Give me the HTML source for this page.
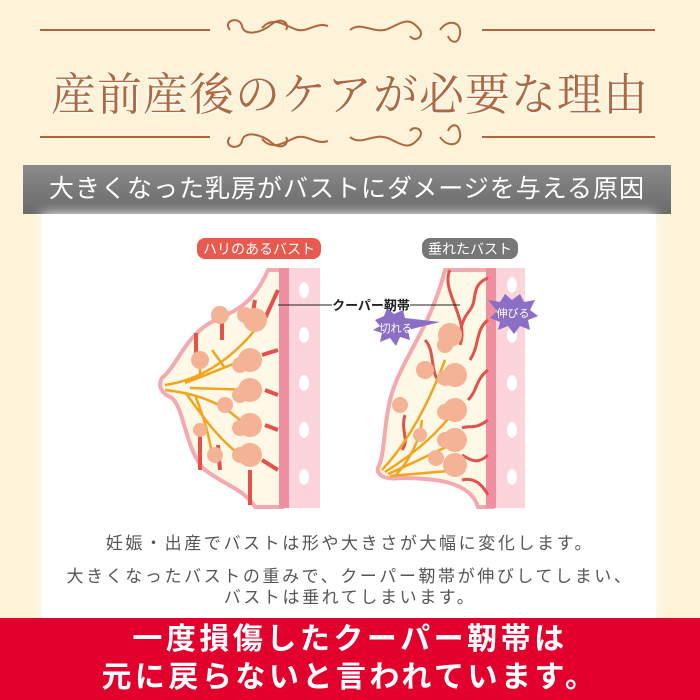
<!DOCTYPE html>
<html><head><meta charset="utf-8"><style>
html,body{margin:0;padding:0}
body{width:700px;height:700px;background:#fcf3d9;position:relative;overflow:hidden;font-family:"Liberation Sans","Noto Sans CJK JP",sans-serif}
.abs{position:absolute}
.title{left:0;width:700px;top:58px;text-align:center;font-family:"Liberation Serif","Noto Serif CJK SC",serif;font-size:45px;color:#b0683f;letter-spacing:1px;text-shadow:0 0 3px #fff,0 0 3px #fff}
.bar{left:23px;top:165px;width:648px;height:49px;background:linear-gradient(#8a8a8a,#6a6a6a);color:#fff;font-size:25px;text-align:center;line-height:49px;letter-spacing:1px}
.panel{left:42px;top:214px;width:614px;height:404px;background:#fff;box-shadow:0 0 12px #fff}
.txt{left:0;width:700px;text-align:center;color:#555;font-size:17px;letter-spacing:2.6px}
.red{left:0;top:618px;width:700px;height:82px;background:#e2002d;color:#fff;font-weight:bold;font-size:30px;text-align:center;line-height:38px;letter-spacing:3.5px}
</style></head><body>
<svg class="abs" style="left:0;top:0" width="700" height="160">
<g stroke="#b0653c" stroke-width="2" fill="none">
<line x1="40" y1="30" x2="210" y2="30"/><line x1="482" y1="30" x2="655" y2="30"/>
<line x1="40" y1="137" x2="210" y2="137"/><line x1="482" y1="137" x2="655" y2="137"/>
<path d="M230 30c-8-10 10-14 12-4s18 8 30-2c10-8 18 0 14 6M262 28c12-14 26 0 36 2 10 2 18-8 30 -4M350 30c12-10 24 6 40-2s20-10 30 2c4 8-6 12-10 6M440 30c8-12 22-8 20 4s-10 8-12 2"/>
<path d="M230 137c-8 10 10 14 12 4s18-8 30 2c10 8 18 0 14-6M262 139c12 14 26 0 36-2 10-2 18 8 30 4M350 137c12 10 24-6 40 2s20 10 30-2c4-8-6-12-10-6M440 137c8 12 22 8 20-4s-10-8-12-2"/>
</g></svg>
<div class="abs title">産前産後のケアが必要な理由</div>
<div class="abs bar">大きくなった乳房がバストにダメージを与える原因</div>
<div class="abs panel"></div>
<svg class="abs" style="left:0;top:0" width="700" height="620">
<rect x="197" y="238" width="124" height="21" rx="8" fill="#e85a4e"/>
<text x="259" y="254" fill="#fff" font-size="14" text-anchor="middle" font-family="Liberation Sans,Noto Sans CJK JP,sans-serif">ハリのあるバスト</text>
<rect x="422" y="238" width="96" height="21" rx="8" fill="#777"/>
<text x="470" y="254" fill="#fff" font-size="14" text-anchor="middle" font-family="Liberation Sans,Noto Sans CJK JP,sans-serif">垂れたバスト</text>
<path d="M268 270C255 300 240 310 215 320C185 335 178 365 162 378C158 385 160 393 172 398C185 410 185 450 205 470C225 485 245 490 255 507L282 507L282 270Z" fill="#fef8e6" stroke="#f4a9b0" stroke-width="4"/>
<rect x="279" y="268" width="10" height="240" fill="#f08fa0"/>
<rect x="289" y="268" width="31" height="240" fill="#fbd4dc"/>
<g fill="#fff"><ellipse cx="304" cy="290" rx="5" ry="8"/><ellipse cx="304" cy="335" rx="5" ry="8"/><ellipse cx="304" cy="383" rx="5" ry="8"/><ellipse cx="304" cy="430" rx="5" ry="8"/><ellipse cx="304" cy="477" rx="5" ry="8"/></g>
<g stroke="#e2524a" stroke-width="4" fill="none">
<path d="M278 290L262 325M255 300L250 330M222 318L222 340M196 333L196 360M262 355L278 350M265 390L278 395M265 425L278 430M262 460L278 470M250 470L250 505M200 430L200 470M218 445L220 470"/>
</g>
<g stroke="#f3a41e" stroke-width="2.5" fill="none">
<path d="M165 385C200 380 230 360 255 330M185 383C220 370 240 360 260 355M190 388L255 390M165 390C210 395 230 410 245 425M185 392C205 420 220 440 240 455M195 395C205 420 210 440 212 455M200 378L200 365M225 368L212 350"/>
</g>
<g fill="#f4b394">
<circle cx="255" cy="320" r="12"/><circle cx="245" cy="315" r="8"/><circle cx="220" cy="315" r="9"/><circle cx="200" cy="360" r="9"/><circle cx="250" cy="360" r="12"/><circle cx="240" cy="365" r="8"/><circle cx="250" cy="390" r="12"/><circle cx="240" cy="395" r="8"/><circle cx="225" cy="405" r="8"/><circle cx="250" cy="425" r="12"/><circle cx="240" cy="428" r="8"/><circle cx="250" cy="455" r="12"/><circle cx="240" cy="455" r="8"/><circle cx="200" cy="430" r="7"/><circle cx="215" cy="455" r="8"/>
</g>
<path d="M445 270C430 330 400 360 390 400C383 430 385 455 378 468C376 475 385 480 400 478C430 478 470 480 478 507L492 507L492 270Z" fill="#fef8e6" stroke="#f4a9b0" stroke-width="4"/>
<rect x="486" y="268" width="10" height="240" fill="#f08fa0"/>
<rect x="496" y="268" width="29" height="240" fill="#fbd4dc"/>
<g fill="#fff"><ellipse cx="512" cy="285" rx="5" ry="8"/><ellipse cx="512" cy="335" rx="5" ry="8"/><ellipse cx="512" cy="383" rx="5" ry="8"/><ellipse cx="512" cy="430" rx="5" ry="8"/><ellipse cx="512" cy="477" rx="5" ry="8"/></g>
<g stroke="#e2524a" stroke-width="3" fill="none">
<path d="M488 278C470 285 478 300 470 310S460 330 462 330M488 320C475 330 480 345 470 360M488 370C475 380 478 390 468 400M488 420C475 430 470 425 462 428M488 455C478 465 470 460 462 455M488 495C480 480 470 478 462 480M450 270C440 290 470 320 460 345M425 340C435 350 430 370 438 380M405 415C400 430 410 440 402 450"/>
</g>
<g stroke="#f3a41e" stroke-width="2.5" fill="none">
<path d="M382 470C410 440 430 400 445 360M385 472C420 450 440 430 455 410M388 474C420 460 440 450 460 440M390 476L460 470M395 476C410 460 420 440 422 420"/>
</g>
<g fill="#f4b394">
<circle cx="450" cy="335" r="12"/><circle cx="445" cy="345" r="8"/><circle cx="425" cy="370" r="9"/><circle cx="455" cy="375" r="12"/><circle cx="445" cy="378" r="8"/><circle cx="455" cy="410" r="12"/><circle cx="445" cy="412" r="8"/><circle cx="400" cy="405" r="8"/><circle cx="455" cy="440" r="12"/><circle cx="445" cy="440" r="8"/><circle cx="455" cy="465" r="12"/><circle cx="420" cy="435" r="7"/><circle cx="436" cy="458" r="8"/>
</g>
<line x1="278" y1="305" x2="332" y2="305" stroke="#222" stroke-width="1"/>
<line x1="410" y1="305" x2="460" y2="305" stroke="#222" stroke-width="1"/>
<text x="371" y="310" font-size="13" font-weight="bold" text-anchor="middle" fill="#222" font-family="Liberation Sans,Noto Sans CJK JP,sans-serif">クーパー靭帯</text>
<polygon points="375,320 384,316 387,308 394,314 403,310 405,318 440,322 408,330 410,340 400,337 396,346 390,338 380,342 382,333 373,330 380,326" fill="#8b6fc4"/>
<text x="396" y="332" font-size="11" text-anchor="middle" fill="#fff" font-family="Liberation Sans,Noto Sans CJK JP,sans-serif">切れる</text>
<polygon points="488,300 500,302 505,294 512,300 520,294 524,302 535,300 530,310 538,316 528,320 530,330 520,326 514,334 508,326 498,330 500,322 490,318 497,311" fill="#8b6fc4"/>
<text x="513" y="317" font-size="11" text-anchor="middle" fill="#fff" font-family="Liberation Sans,Noto Sans CJK JP,sans-serif">伸びる</text>
</svg>
<div class="abs txt" style="top:529px">妊娠・出産でバストは形や大きさが大幅に変化します。</div>
<div class="abs txt" style="top:562px">大きくなったバストの重みで、クーパー靭帯が伸びしてしまい、</div>
<div class="abs txt" style="top:583px">バストは垂れてしまいます。</div>
<div class="abs red"><div style="padding-top:3px">一度損傷したクーパー靭帯は</div><div>元に戻らないと言われています。</div></div>
</body></html>
